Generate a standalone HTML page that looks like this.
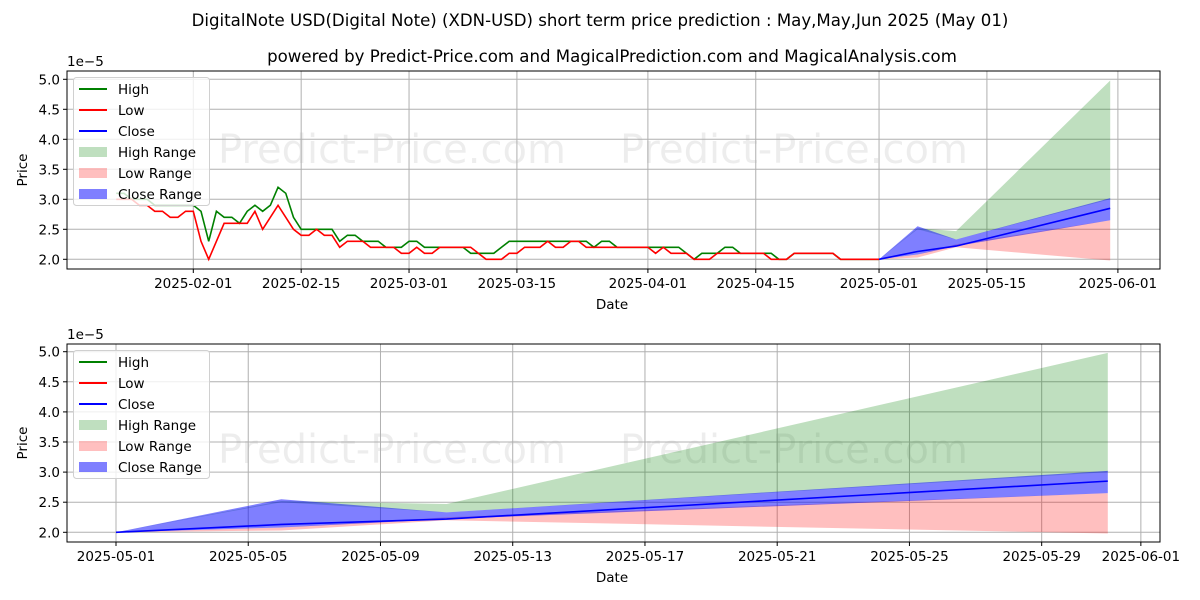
<!DOCTYPE html>
<html><head><meta charset="utf-8"><style>
html,body{margin:0;padding:0;background:#fff;}
svg{display:block;font-family:"DejaVu Sans","Liberation Sans",sans-serif;}
</style></head><body>
<svg id="c" width="1200" height="600" xmlns="http://www.w3.org/2000/svg">
<text x="600" y="26" text-anchor="middle" font-size="16.6">DigitalNote USD(Digital Note) (XDN-USD) short term price prediction : May,May,Jun 2025 (May 01)</text>
<text x="612" y="62" text-anchor="middle" font-size="16.6">powered by Predict-Price.com and MagicalPrediction.com and MagicalAnalysis.com</text>
</svg>
<script>
// historical daily data starting 2025-01-22, ending 2025-05-01
const histStart = "2025-01-22";
const highVals = [3.1,3.1,3.0,3.0,3.0,2.9,2.9,2.9,2.9,2.9,
 2.9,2.8,2.3,2.8,2.7,2.7,2.6,2.8,2.9,2.8,2.9,3.2,3.1,2.7,2.5,2.5,2.5,2.5,2.5,2.3,2.4,2.4,2.3,2.3,2.3,2.2,2.2,2.2,
 2.3,2.3,2.2,2.2,2.2,2.2,2.2,2.2,2.1,2.1,2.1,2.1,2.2,2.3,2.3,2.3,2.3,2.3,2.3,2.3,2.3,2.3,2.3,2.3,2.2,2.3,2.3,2.2,2.2,2.2,2.2,
 2.2,2.2,2.2,2.2,2.2,2.1,2.0,2.1,2.1,2.1,2.2,2.2,2.1,2.1,2.1,2.1,2.1,2.0,2.0,2.1,2.1,2.1,2.1,2.1,2.1,2.0,2.0,2.0,2.0,2.0,2.0];
const lowVals = [3.0,3.0,3.0,2.9,2.9,2.8,2.8,2.7,2.7,2.8,
 2.8,2.3,2.0,2.3,2.6,2.6,2.6,2.6,2.8,2.5,2.7,2.9,2.7,2.5,2.4,2.4,2.5,2.4,2.4,2.2,2.3,2.3,2.3,2.2,2.2,2.2,2.2,2.1,
 2.1,2.2,2.1,2.1,2.2,2.2,2.2,2.2,2.2,2.1,2.0,2.0,2.0,2.1,2.1,2.2,2.2,2.2,2.3,2.2,2.2,2.3,2.3,2.2,2.2,2.2,2.2,2.2,2.2,2.2,2.2,
 2.2,2.1,2.2,2.1,2.1,2.1,2.0,2.0,2.0,2.1,2.1,2.1,2.1,2.1,2.1,2.1,2.0,2.0,2.0,2.1,2.1,2.1,2.1,2.1,2.1,2.0,2.0,2.0,2.0,2.0,2.0];
// prediction
const predDates = ["2025-05-01","2025-05-06","2025-05-11","2025-05-31"];
const closeVals = [2.0,2.13,2.22,2.85];
const closeLo = [2.0,2.08,2.22,2.65];
const closeHi = [2.0,2.55,2.33,3.02];
const highLo = [2.0,2.5,2.33,3.0];
const highHi = [2.0,2.52,2.47,4.98];
const lowLo = [2.0,2.03,2.2,1.98];
const lowHi = [2.0,2.08,2.25,2.65];
const yTicks = [2.0,2.5,3.0,3.5,4.0,4.5,5.0];
const topXTicks = ["2025-02-01","2025-02-15","2025-03-01","2025-03-15","2025-04-01","2025-04-15","2025-05-01","2025-05-15","2025-06-01"];
const botXTicks = ["2025-05-01","2025-05-05","2025-05-09","2025-05-13","2025-05-17","2025-05-21","2025-05-25","2025-05-29","2025-06-01"];

const svg=document.getElementById('c');
const NS="http://www.w3.org/2000/svg";
function mk(t,a,p){const e=document.createElementNS(NS,t);for(const k in a)e.setAttribute(k,a[k]);(p||svg).appendChild(e);return e;}
function dnum(s){return Date.parse(s+"T00:00:00Z")/86400000;}
function addDays(s,i){return dnum(s)+i;}

function panel(name,box,x0day,pxPerDay,yBase,yPer,xticks,showHist){
  const g=mk('g',{});
  
  
  const X=d=>box.x0+(d-x0day)*pxPerDay;
  const Y=v=>yBase-(v-2.0)*yPer;
  [[218,box.wm],[620,box.wm]].forEach(p=>{
    const t=mk('text',{x:p[0],y:p[1],'font-size':40,fill:'#000','fill-opacity':0.07},g);
    t.textContent='Predict-Price.com';
    
    
  });
  yTicks.forEach(v=>{
    const l=mk('line',{x1:box.x0,x2:box.x1,y1:Y(v),y2:Y(v),stroke:'#b0b0b0','stroke-width':1},g);
    
    
    const t=mk('text',{x:box.x0-7,y:Y(v)+5,'text-anchor':'end','font-size':13.5},g);
    t.textContent=v.toFixed(1);
    
    
    mk('line',{x1:box.x0-4,x2:box.x0,y1:Y(v),y2:Y(v),stroke:'#000'},g);
  });
  xticks.forEach(s=>{
    const x=X(dnum(s));
    const l=mk('line',{x1:x,x2:x,y1:box.y0,y2:box.y1,stroke:'#b0b0b0','stroke-width':1},g);
    
    
    mk('line',{x1:x,x2:x,y1:box.y1,y2:box.y1+4,stroke:'#000'},g);
    const t=mk('text',{x:x,y:box.y1+19,'text-anchor':'middle','font-size':13.5},g);
    t.textContent=s;
    
    
  });
  function band(lo,hi,fill,op,nm){
    const pts=predDates.map((s,i)=>X(dnum(s))+','+Y(hi[i]));
    for(let i=predDates.length-1;i>=0;i--)pts.push(X(dnum(predDates[i]))+','+Y(lo[i]));
    const p=mk('polygon',{points:pts.join(' '),fill:fill,'fill-opacity':op},g);
    
    
  }
  band(highLo,highHi,'#008000',0.25,'high-range-band');
  band(lowLo,lowHi,'#ff0000',0.25,'low-range-band');
  band(closeLo,closeHi,'#0000ff',0.5,'close-range-band');
  function line(xs,vals,col,nm){
    const p=mk('polyline',{points:vals.map((v,i)=>X(xs[i])+','+Y(v)).join(' '),fill:'none',stroke:col,'stroke-width':1.6},g);
    
    
  }
  if(showHist){
    const hx=highVals.map((v,i)=>addDays(histStart,i));
    line(hx,highVals,'#008000','high-line');
    const lx=lowVals.map((v,i)=>addDays(histStart,i));
    line(lx,lowVals,'#ff0000','low-line');
  }
  line(predDates.map(dnum),closeVals,'#0000ff','close-line');
  const f=mk('rect',{x:box.x0,y:box.y0,width:box.x1-box.x0,height:box.y1-box.y0,fill:'none',stroke:'#000','stroke-width':1},g);
  
  
  const ex=mk('text',{x:box.x0,y:box.y0-5,'font-size':13.5},g);ex.textContent='1e\u22125';
  
  
  const yl=mk('text',{x:0,y:0,'font-size':13.5,'text-anchor':'middle',transform:`translate(27,${(box.y0+box.y1)/2}) rotate(-90)`},g);yl.textContent='Price';
  
  
  const xl=mk('text',{x:612,y:box.y1+40,'font-size':13.5,'text-anchor':'middle'},g);xl.textContent='Date';
  
  
  const lg=mk('g',{},g);
  
  
  mk('rect',{x:73.5,y:box.y0+6.5,width:136,height:128,rx:3,fill:'#fff','fill-opacity':0.8,stroke:'#d0d0d0'},lg);
  const items=[['High','#008000',1,'l'],['Low','#ff0000',1,'l'],['Close','#0000ff',1,'l'],['High Range','#008000',0.25,'p'],['Low Range','#ff0000',0.25,'p'],['Close Range','#0000ff',0.5,'p']];
  items.forEach((it,i)=>{
    const y=box.y0+18+i*21;
    if(it[3]=='l')mk('line',{x1:79,x2:107,y1:y,y2:y,stroke:it[1],'stroke-width':2},lg);
    else mk('rect',{x:79,y:y-5,width:28,height:10,fill:it[1],'fill-opacity':it[2]},lg);
    const t=mk('text',{x:118,y:y+5,'font-size':13.5},lg);t.textContent=it[0];
    
    
  });
}
const feb1=dnum("2025-02-01");
panel('top-panel',{x0:67,x1:1160,y0:71,y1:269,wm:163},feb1-(193.3-67)/7.705,7.705,259.3,60,topXTicks,true);
const may1=dnum("2025-05-01");
panel('bottom-panel',{x0:67,x1:1160,y0:344,y1:542,wm:463},may1-(116-67)/33.06,33.06,532.3,60.2,botXTicks,false);
</script>
</body></html>
